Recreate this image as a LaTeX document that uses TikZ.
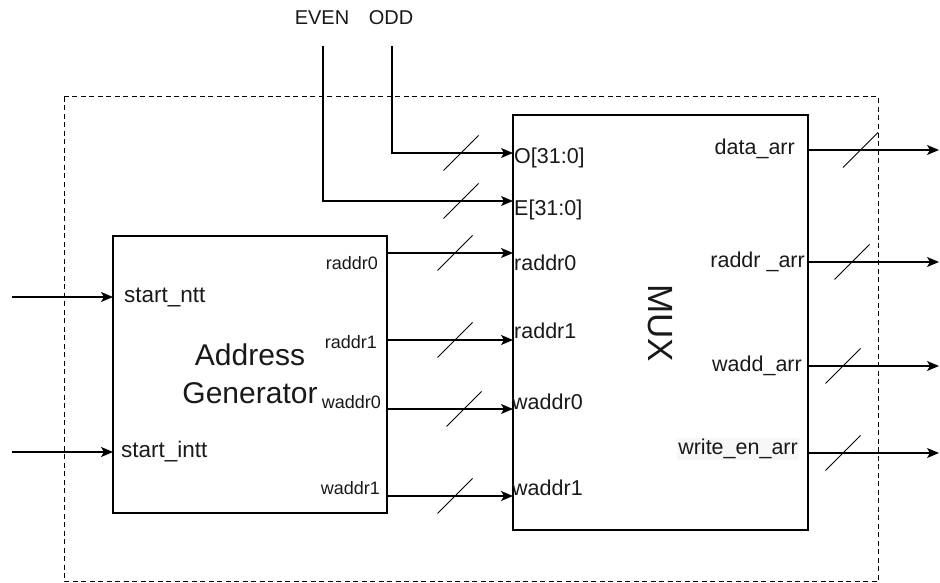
\documentclass[tikz,border=0pt]{standalone}
\usepackage{fontspec}
\setmainfont{Liberation Sans}
\usetikzlibrary{arrows.meta}
\begin{document}
\begin{tikzpicture}[x=1pt,y=-1pt,
  box/.style={draw, line width=1.4pt, inner sep=0pt},
  frame/.style={draw, line width=1pt, dash pattern=on 5pt off 3.5pt},
  conn/.style={line width=1.4pt, -{Stealth[length=12pt,width=10pt,inset=3pt]}},
  lbl/.style={inner sep=0pt, text=black!90},
  big/.style={lbl, font=\fontsize{30}{38}\selectfont, align=center},
  mid/.style={lbl, font=\fontsize{21.5}{24}\selectfont},
  small/.style={lbl, font=\fontsize{18}{20}\selectfont},
  bus/.pic={\draw[line width=0.8pt] (-17.5,17.5) -- (17.5,-17.5);}
]
\useasboundingbox (0,0) rectangle (940,583);

% outer dashed frame
\draw[frame] (64,97) rectangle (878,581.5);

% blocks
\node[box, minimum width=274pt, minimum height=277pt] (ag) at (250,374.5) {};
\node[box, minimum width=295pt, minimum height=415pt] (mux) at (660.5,322.5) {};

\node[big] (agtxt) at (250,374) {Address\\Generator};
\node[lbl, font=\fontsize{35}{38}\selectfont, rotate=-90] (muxtxt) at (660,323) {MUX};

% top inputs
\node[lbl, font=\fontsize{20}{22}\selectfont] (even) at (322,18) {EVEN};
\node[lbl, font=\fontsize{20}{22}\selectfont] (odd) at (391,18) {ODD};
\coordinate (evenTop) at (323,46);
\coordinate (oddTop) at (392,46);
\coordinate (muxO) at (513,153);
\coordinate (muxE) at (513,201);
\draw[conn] (oddTop) |- (muxO);
\draw[conn] (evenTop) |- (muxE);
\pic at (461,153) {bus};
\pic at (461,201) {bus};

% left inputs
\coordinate (inNtt) at (12,297);
\coordinate (inIntt) at (12,452);
\coordinate (agNtt) at (113,297);
\coordinate (agIntt) at (113,452);
\draw[conn] (inNtt) -- (agNtt);
\draw[conn] (inIntt) -- (agIntt);
\node[mid, font=\fontsize{22.5}{24}\selectfont, anchor=west] (sntt) at (124,297) {start\_ntt};
\node[mid, font=\fontsize{22.5}{24}\selectfont, anchor=west] (sintt) at (121,452) {start\_intt};

% address generator outputs
\node[small, anchor=east] (lr0) at (378,263) {raddr0};
\node[small, anchor=east] (lr1) at (377,342) {raddr1};
\node[small, anchor=east] (lw0) at (381,402) {waddr0};
\node[small, anchor=east] (lw1) at (380,488) {waddr1};

\coordinate (agR0) at (387,253);
\coordinate (agR1) at (387,340);
\coordinate (agW0) at (387,409);
\coordinate (agW1) at (387,496);
\coordinate (muxR0) at (513,253);
\coordinate (muxR1) at (513,340);
\coordinate (muxW0) at (513,409);
\coordinate (muxW1) at (513,496);
\draw[conn] (agR0) -- (muxR0);
\draw[conn] (agR1) -- (muxR1);
\draw[conn] (agW0) -- (muxW0);
\draw[conn] (agW1) -- (muxW1);
\pic at (455,253) {bus};
\pic at (455,340) {bus};
\pic at (464,409) {bus};
\pic at (455,496) {bus};

% mux input labels
\node[mid, anchor=west] (mO) at (514,158) {O[31:0]};
\node[mid, anchor=west] (mE) at (514,210) {E[31:0]};
\node[mid, anchor=west] (mr0) at (514,263) {raddr0};
\node[mid, anchor=west] (mr1) at (514,331) {raddr1};
\node[mid, anchor=west] (mw0) at (512,402) {waddr0};
\node[mid, anchor=west] (mw1) at (512,488) {waddr1};

% mux outputs
\node[mid, anchor=east] (od) at (795,149) {data\_arr};
\node[mid, anchor=east] (or) at (805,262) {raddr \_arr};
\node[mid, anchor=east] (ow) at (802,366) {wadd\_arr};
\node[mid, anchor=east, fill=black!3, inner sep=1pt] (oe) at (799,449) {write\_en\_arr};

\coordinate (mD) at (808,150);
\coordinate (mR) at (808,262);
\coordinate (mW) at (808,366);
\coordinate (mX) at (808,453);
\coordinate (outD) at (939,150);
\coordinate (outR) at (939,262);
\coordinate (outW) at (939,366);
\coordinate (outX) at (939,453);
\draw[conn] (mD) -- (outD);
\draw[conn] (mR) -- (outR);
\draw[conn] (mW) -- (outW);
\draw[conn] (mX) -- (outX);
\pic at (860.5,150) {bus};
\pic at (852,262) {bus};
\pic at (843,366) {bus};
\pic at (843,453) {bus};
\end{tikzpicture}
\end{document}
